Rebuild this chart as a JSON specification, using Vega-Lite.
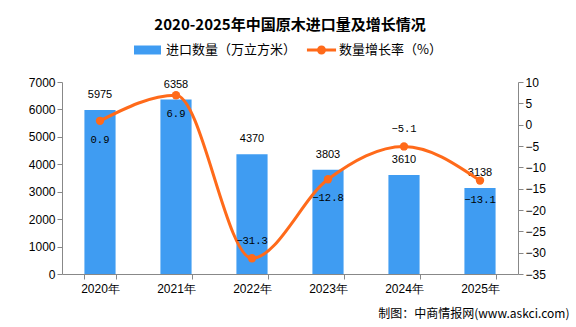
{
  "$schema": "https://vega.github.io/schema/vega-lite/v6.json",
  "autosize": "none",
  "width": 456,
  "height": 192,
  "padding": {"left": 62, "top": 82, "right": 58, "bottom": 53},
  "background": "white",
  "title": {
    "text": "2020-2025年中国原木进口量及增长情况",
    "anchor": "middle",
    "fontSize": 15,
    "fontWeight": "bold",
    "font": "Noto Sans CJK SC",
    "color": "#000000",
    "offset": 2
  },
  "config": {
    "font": "Noto Sans CJK SC",
    "view": {"stroke": null},
    "axis": {
      "grid": false,
      "domainColor": "#888888",
      "tickColor": "#888888",
      "labelColor": "#000000",
      "labelFontSize": 12,
      "labelFont": "Liberation Sans",
      "tickSize": 5
    },
    "legend": {
      "labelFontSize": 13,
      "labelColor": "#000000",
      "padding": 0
    }
  },
  "data": {
    "values": [
      {"year": "2020年", "qty": 5975, "rate": 0.9},
      {"year": "2021年", "qty": 6358, "rate": 6.9},
      {"year": "2022年", "qty": 4370, "rate": -31.3},
      {"year": "2023年", "qty": 3803, "rate": -12.8},
      {"year": "2024年", "qty": 3610, "rate": -5.1},
      {"year": "2025年", "qty": 3138, "rate": -13.1}
    ]
  },
  "encoding": {
    "x": {
      "field": "year",
      "type": "nominal",
      "sort": null,
      "scale": {"paddingInner": 0.59, "paddingOuter": 0.295},
      "axis": {
        "labelAngle": 0,
        "tickBand": "extent",
        "labelPadding": 4,
        "title": "制图：中商情报网(www.askci.com)",
        "titleFontSize": 12,
        "titleFontWeight": "normal",
        "titleColor": "#000000",
        "titleAnchor": null,
        "titleAlign": "right",
        "titleBaseline": "middle",
        "titleX": 507,
        "titleY": 39
      }
    }
  },
  "layer": [
    {
      "encoding": {
        "y": {
          "field": "qty",
          "type": "quantitative",
          "scale": {"domain": [0, 7000]},
          "axis": {"orient": "left", "values": [0, 1000, 2000, 3000, 4000, 5000, 6000, 7000], "format": "d", "title": null}
        }
      },
      "layer": [
        {
          "mark": {"type": "bar"},
          "encoding": {
            "color": {
              "datum": "进口数量（万立方米）",
              "type": "nominal",
              "scale": {"range": ["#3f9cf2"]},
              "legend": {
                "title": null,
                "orient": "none",
                "legendX": 70.5,
                "legendY": -47,
                "symbolType": "M-0.9,-0.3H0.9V0.3H-0.9Z",
                "symbolSize": 900,
                "symbolStrokeWidth": 0,
                "labelOffset": 3.5
              }
            }
          }
        },
        {
          "mark": {"type": "text", "baseline": "middle", "dy": -15, "fontSize": 11, "font": "Liberation Sans", "color": "#000000"},
          "encoding": {
            "text": {"field": "qty", "type": "quantitative", "format": "d"}
          }
        }
      ]
    },
    {
      "encoding": {
        "y": {
          "field": "rate",
          "type": "quantitative",
          "scale": {"domain": [-35, 10]},
          "axis": {"orient": "right", "values": [-35, -30, -25, -20, -15, -10, -5, 0, 5, 10], "title": null}
        }
      },
      "layer": [
        {
          "mark": {"type": "line", "interpolate": "monotone", "strokeWidth": 3, "color": "#ff6a1a"}
        },
        {
          "mark": {"type": "point", "filled": true, "size": 70, "opacity": 1},
          "encoding": {
            "color": {
              "datum": "数量增长率（%）",
              "type": "nominal",
              "scale": {"range": ["#ff6a1a"]},
              "legend": {
                "title": null,
                "orient": "none",
                "legendX": 244.5,
                "legendY": -47,
                "symbolType": "M-0.97,-0.1H0.97V0.1H-0.97Z M0.3,0A0.3,0.3 0 1,1 -0.3,0A0.3,0.3 0 1,1 0.3,0Z",
                "symbolSize": 900,
                "symbolStrokeWidth": 0,
                "labelOffset": 2.5
              }
            }
          }
        },
        {
          "transform": [{"filter": "datum.year != '2022年' && datum.year != '2024年'"}],
          "mark": {"type": "text", "baseline": "middle", "dy": 19, "fontSize": 10.5, "font": "Liberation Mono", "color": "#000000"},
          "encoding": {
            "text": {"field": "rate", "type": "quantitative", "format": ".1f"}
          }
        },
        {
          "transform": [{"filter": "datum.year == '2022年' || datum.year == '2024年'"}],
          "mark": {"type": "text", "baseline": "middle", "dy": -17, "fontSize": 10.5, "font": "Liberation Mono", "color": "#000000"},
          "encoding": {
            "text": {"field": "rate", "type": "quantitative", "format": ".1f"}
          }
        }
      ]
    }
  ],
  "resolve": {"scale": {"y": "independent", "color": "independent"}, "legend": {"color": "independent"}}
}
